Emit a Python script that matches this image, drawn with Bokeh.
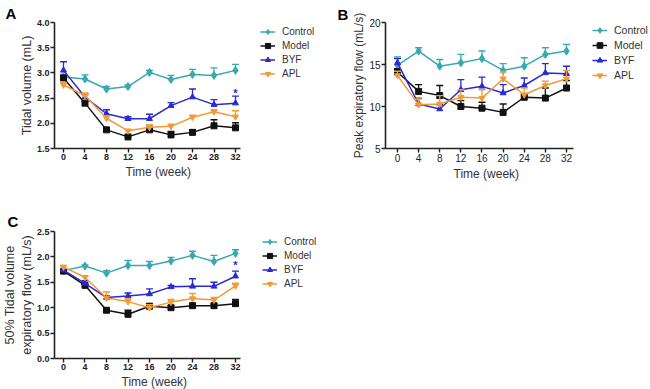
from bokeh.plotting import figure
from bokeh.models import Range1d, FixedTicker, Legend, LegendItem, NumeralTickFormatter, Title
from bokeh.layouts import column, row
from bokeh.embed import file_html
from bokeh.resources import INLINE

weeks = [0, 4, 8, 12, 16, 20, 24, 28, 32]
groups = ["Control", "Model", "BYF", "APL"]

# Panel A: tidal volume (mL)
a_control = [2.92, 2.88, 2.68, 2.73, 3.01, 2.87, 2.97, 2.95, 3.05]
a_control_err = [0.05, 0.08, 0.05, 0.03, 0.04, 0.08, 0.10, 0.15, 0.12]
a_model = [2.90, 2.40, 1.87, 1.73, 1.87, 1.77, 1.82, 1.95, 1.91]
a_model_err = [0.05, 0.03, 0.03, 0.03, 0.03, 0.07, 0.05, 0.12, 0.10]
a_byf = [3.05, 2.52, 2.19, 2.09, 2.09, 2.35, 2.52, 2.37, 2.40]
a_byf_err = [0.17, 0.05, 0.08, 0.04, 0.09, 0.06, 0.16, 0.10, 0.14]
a_apl = [2.76, 2.55, 2.10, 1.85, 1.92, 1.94, 2.12, 2.23, 2.13]
a_apl_err = [0.05, 0.05, 0.05, 0.03, 0.05, 0.04, 0.04, 0.04, 0.12]

# Panel B: peak expiratory flow (mL/s)
b_control = [14.9, 16.6, 14.8, 15.2, 15.7, 14.3, 14.8, 16.2, 16.6]
b_control_err = [1.0, 0.4, 0.8, 1.0, 0.9, 0.8, 1.0, 0.8, 0.8]
b_model = [14.1, 11.8, 11.3, 10.0, 9.8, 9.3, 11.1, 11.0, 12.2]
b_model_err = [0.4, 0.8, 1.2, 0.7, 0.7, 1.0, 0.4, 1.2, 0.9]
b_byf = [15.2, 10.3, 9.7, 12.0, 12.4, 11.6, 12.5, 14.0, 13.9]
b_byf_err = [0.5, 0.7, 0.5, 1.2, 1.1, 1.0, 0.9, 1.1, 0.9]
b_apl = [13.7, 10.2, 10.3, 11.1, 11.0, 13.3, 11.4, 12.5, 13.3]
b_apl_err = [0.5, 0.7, 1.0, 0.9, 1.0, 0.8, 0.8, 0.5, 1.0]

# Panel C: 50% tidal volume expiratory flow (mL/s)
c_control = [1.73, 1.82, 1.68, 1.83, 1.83, 1.92, 2.03, 1.91, 2.07]
c_control_err = [0.03, 0.02, 0.05, 0.10, 0.08, 0.07, 0.08, 0.12, 0.07]
c_model = [1.72, 1.44, 0.95, 0.87, 1.03, 1.00, 1.04, 1.04, 1.08]
c_model_err = [0.02, 0.02, 0.03, 0.08, 0.04, 0.04, 0.03, 0.03, 0.08]
c_byf = [1.74, 1.48, 1.20, 1.23, 1.27, 1.41, 1.42, 1.42, 1.62]
c_byf_err = [0.03, 0.05, 0.03, 0.06, 0.10, 0.03, 0.15, 0.08, 0.10]
c_apl = [1.80, 1.60, 1.19, 1.12, 1.00, 1.11, 1.18, 1.15, 1.43]
c_apl_err = [0.03, 0.03, 0.12, 0.05, 0.06, 0.05, 0.10, 0.05, 0.05]

star_a = 2.60
star_c = 1.85

colors = {"Control": "#37a9b1", "Model": "#111111", "BYF": "#2a2ad2", "APL": "#f29a38"}
markers = {"Control": "diamond", "Model": "square", "BYF": "triangle", "APL": "inverted_triangle"}
msize = {"Control": 8, "Model": 6, "BYF": 6, "APL": 6}
FONT = "Liberation Sans"


def make_panel(letter, series, yr, yticks, yfmt, ylabel, width, height, borders,
               xr, xbounds, legend_loc, row_h, tick_bold, label_size, ylab_size,
               legend_size, letter_offset, letter_standoff, xlabel_offset, star=None):
    left, right, top, bottom = borders
    p = figure(width=width, height=height, output_backend="svg", toolbar_location=None,
               x_range=Range1d(*xr), y_range=Range1d(*yr),
               min_border_left=left, min_border_right=right,
               min_border_top=top, min_border_bottom=bottom)
    p.outline_line_color = None
    p.grid.visible = False
    p.background_fill_color = "white"
    p.border_fill_color = "white"
    for ax in (p.xaxis[0], p.yaxis[0]):
        ax.axis_line_width = 1.6
        ax.axis_line_color = "#222222"
        ax.major_tick_line_width = 1.4
        ax.major_tick_line_color = "#222222"
        ax.major_tick_out = 4
        ax.major_tick_in = 0
        ax.minor_tick_out = 0
        ax.minor_tick_in = 0
        ax.major_label_text_font = FONT
        ax.major_label_text_font_size = label_size
        ax.major_label_text_font_style = "bold" if tick_bold else "normal"
        ax.major_label_text_color = "#222222"
        ax.major_label_standoff = 1
        ax.axis_label_text_font = FONT
        ax.axis_label_text_font_style = "normal"
        ax.axis_label_text_color = "#333333"
    p.xaxis.bounds = xbounds
    p.xaxis.ticker = FixedTicker(ticks=weeks)
    p.yaxis.ticker = FixedTicker(ticks=yticks)
    if yfmt:
        p.yaxis.formatter = NumeralTickFormatter(format=yfmt)
    p.yaxis.axis_label = ylabel
    p.yaxis.axis_label_text_font_size = ylab_size
    p.yaxis.axis_label_standoff = 0

    # x-axis title, placed under the axis (centred on the axis rather than the frame)
    p.add_layout(Title(text="Time (week)", align="left", offset=xlabel_offset, standoff=0,
                       text_font=FONT, text_font_size="12px", text_font_style="normal",
                       text_color="#333333"), "below")

    p.title.text = letter
    p.title.align = "left"
    p.title.offset = letter_offset
    p.title.standoff = letter_standoff
    p.title.text_font = FONT
    p.title.text_font_size = "15px"
    p.title.text_font_style = "bold"
    p.title.text_color = "black"

    items = []
    for g in ["Control", "Model", "BYF", "APL"]:
        vals, errs = series[g]
        c = colors[g]
        tops = [v + e for v, e in zip(vals, errs)]
        p.segment(x0=weeks, y0=vals, x1=weeks, y1=tops, line_color=c, line_width=1.3)
        p.scatter(x=weeks, y=tops, marker="dash", size=7, line_color=c, line_width=1.4)
        rl = p.line(x=weeks, y=vals, line_color=c, line_width=1.5)
        rs = p.scatter(x=weeks, y=vals, marker=markers[g], size=msize[g],
                       fill_color=c, line_color=c)
        items.append(LegendItem(label=g, renderers=[rl, rs]))
    if star is not None:
        p.text(x=[32], y=[star], text=["*"], text_color=colors["BYF"], text_align="center",
               text_baseline="middle", text_font_size="11px", text_font_style="bold")

    legend = Legend(items=items, location=legend_loc, padding=0, margin=0, spacing=1,
                    glyph_width=15, glyph_height=row_h, label_height=row_h, label_standoff=7,
                    label_text_font=FONT, label_text_font_size=legend_size,
                    label_text_color="#333333", border_line_color=None,
                    background_fill_alpha=0)
    p.add_layout(legend, "center")
    return p


# Panel A: frame x 54..328 px, y 22..150 px
pa = make_panel("A", {"Control": (a_control, a_control_err), "Model": (a_model, a_model_err),
                      "BYF": (a_byf, a_byf_err), "APL": (a_apl, a_apl_err)},
                (1.5, 4.0), [1.5, 2.0, 2.5, 3.0, 3.5, 4.0], "0.0", "Tidal volume (mL)",
                330, 200, (54, 2, 22, 50), (-1.674, 49.30), (-1.674, 32.93), (206, 68), 13,
                True, "9px", "12.5px", "10px", -49, 2, 71, star=star_a)

# Panel B: frame x 385..648 px (page), y 20..148 px
pb = make_panel("B", {"Control": (b_control, b_control_err), "Model": (b_model, b_model_err),
                      "BYF": (b_byf, b_byf_err), "APL": (b_apl, b_apl_err)},
                (5, 20), [5, 10, 15, 20], None, "Peak expiratory flow (mL/s)",
                320, 200, (55, 2, 20, 52), (-2.272, 47.53), (-2.272, 33.33), (207, 66), 14,
                False, "10px", "12px", "10.5px", -48, 0, 68)

# Panel C: frame x 54..328 px, y 231..358 px (page)
pc = make_panel("C", {"Control": (c_control, c_control_err), "Model": (c_model, c_model_err),
                      "BYF": (c_byf, c_byf_err), "APL": (c_apl, c_apl_err)},
                (0.0, 2.5), [0.0, 0.5, 1.0, 1.5, 2.0, 2.5], "0.0",
                "50% Tidal volume\nexpiratory flow (mL/s)",
                330, 189, (54, 2, 31, 31), (-1.674, 49.30), (-1.674, 32.93), (208, 68), 13,
                True, "9px", "12.5px", "10px", -47, 3, 67, star=star_c)

layout = column(row(pa, pb, spacing=0), pc, spacing=0)
open("out.html", "w").write(file_html(layout, INLINE))
